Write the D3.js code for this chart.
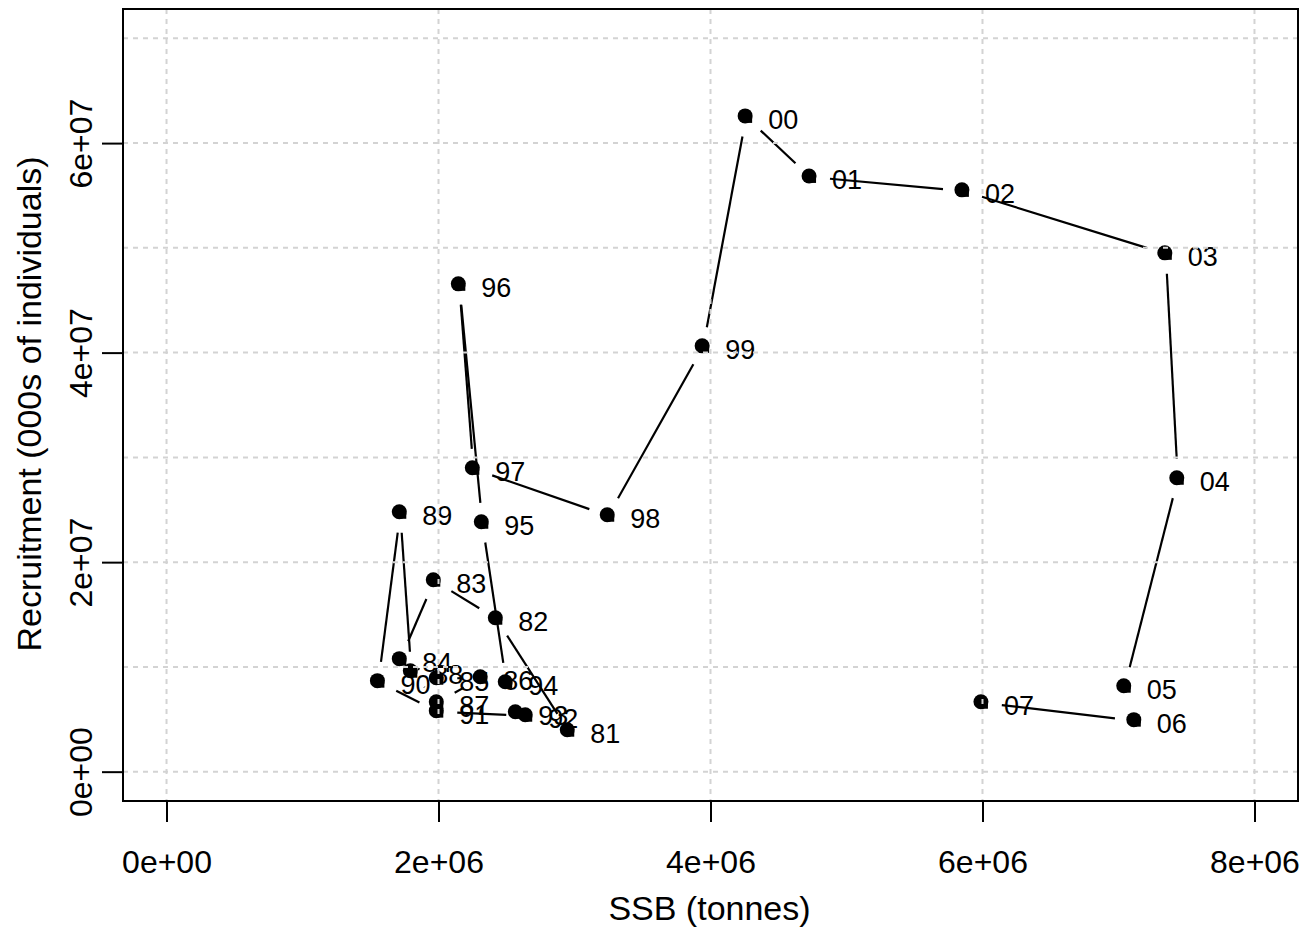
<!DOCTYPE html>
<html>
<head>
<meta charset="utf-8">
<script src="https://cdn.jsdelivr.net/npm/d3@7"></script>
<style>
  body { margin: 0; background: #fff; }
  text { font-family: "Liberation Sans", Arial, sans-serif; fill: #000; }
</style>
</head>
<body>
<div id="chart"></div>
<script>
// stock-recruitment by year (SSB in tonnes, recruits in 000s)
const years = ["81","82","83","84","85","86","87","88","89","90","91","92","93","94",
               "95","96","97","98","99","00","01","02","03","04","05","06","07"];
const ssb = [2.954e6, 2.425e6, 1.969e6, 1.719e6, 1.991e6, 2.314e6, 1.991e6, 1.800e6, 1.719e6,
             1.558e6, 1.991e6, 2.645e6, 2.572e6, 2.498e6, 2.322e6, 2.153e6, 2.256e6, 3.248e6,
             3.946e6, 4.262e6, 4.732e6, 5.856e6, 7.348e6, 7.436e6, 7.046e6, 7.120e6, 5.996e6];
const recruits = [0.391e7, 1.460e7, 1.823e7, 1.069e7, 0.887e7, 0.897e7, 0.658e7, 0.954e7, 2.471e7,
                  0.859e7, 0.573e7, 0.534e7, 0.563e7, 0.849e7, 2.376e7, 4.647e7, 2.891e7, 2.443e7,
                  4.055e7, 6.250e7, 5.677e7, 5.544e7, 4.943e7, 2.796e7, 0.811e7, 0.487e7, 0.658e7];

const xTicks = [0, 2e6, 4e6, 6e6, 8e6];
const xTickLabels = ["0e+00", "2e+06", "4e+06", "6e+06", "8e+06"];
const yTicks = [0, 2e7, 4e7, 6e7];
const yTickLabels = ["0e+00", "2e+07", "4e+07", "6e+07"];
const xGrid = [0, 2e6, 4e6, 6e6, 8e6];
const yGrid = [0, 1e7, 2e7, 3e7, 4e7, 5e7, 6e7, 7e7];

const width = 1305, height = 933;
const box = { left: 123, right: 1298, top: 9, bottom: 801 };

const svg = d3.select("#chart")
   .append("svg")
   .attr("width", width)
   .attr("height", height);

// R style 4% axis extension around xlim=c(0,8e6), ylim=c(0,7e7)
const x = d3.scaleLinear()
   .domain([-0.32e6, 8.32e6])
   .range([box.left, box.right]);
const y = d3.scaleLinear()
   .domain([-0.28e7, 7.28e7])
   .range([box.bottom, box.top]);

const pts = years.map((yr, i) => ({ yr: yr, px: x(ssb[i]), py: y(recruits[i]) }));

// type="b" lines: segments with gaps around each point
const gap = 20;
const segs = [];
for (let i = 0; i < pts.length - 1; i++) {
   const a = pts[i], b = pts[i + 1];
   const dx = b.px - a.px, dy = b.py - a.py;
   const len = Math.sqrt(dx * dx + dy * dy);
   if (len > 2 * gap) {
      const ux = dx / len, uy = dy / len;
      segs.push({ x1: a.px + ux * gap, y1: a.py + uy * gap, x2: b.px - ux * gap, y2: b.py - uy * gap });
   }
}

svg.append("g")
   .selectAll("line")
   .data(segs)
   .enter()
   .append("line")
   .attr("x1", (d) => d.x1)
   .attr("y1", (d) => d.y1)
   .attr("x2", (d) => d.x2)
   .attr("y2", (d) => d.y2)
   .attr("stroke", "#000")
   .attr("stroke-width", 2.2);

const dots = svg.append("g");
dots.selectAll("circle.main")
   .data(pts)
   .enter()
   .append("circle")
   .attr("class", "main")
   .attr("cx", (d) => d.px - 1)
   .attr("cy", (d) => d.py - 1)
   .attr("r", 7.5)
   .attr("fill", "#000");
dots.selectAll("rect")
   .data(pts)
   .enter()
   .append("rect")
   .attr("x", (d) => d.px)
   .attr("y", (d) => d.py)
   .attr("width", 6)
   .attr("height", 6)
   .attr("fill", "#000");

svg.append("g")
   .selectAll("text")
   .data(pts)
   .enter()
   .append("text")
   .attr("x", (d) => d.px + 22)
   .attr("y", (d) => d.py + 12)
   .style("font-size", "27px")
   .text((d) => d.yr);

// dotted grid
const grid = svg.append("g")
   .attr("stroke", "#d3d3d3")
   .attr("stroke-width", 2)
   .attr("stroke-dasharray", "5,5");
grid.selectAll("line.v")
   .data(xGrid)
   .enter()
   .append("line")
   .attr("x1", (d) => x(d))
   .attr("x2", (d) => x(d))
   .attr("y1", box.top)
   .attr("y2", box.bottom);
grid.selectAll("line.h")
   .data(yGrid)
   .enter()
   .append("line")
   .attr("x1", box.left)
   .attr("x2", box.right)
   .attr("y1", (d) => y(d))
   .attr("y2", (d) => y(d));

// frame
svg.append("rect")
   .attr("x", box.left)
   .attr("y", box.top)
   .attr("width", box.right - box.left)
   .attr("height", box.bottom - box.top)
   .attr("fill", "none")
   .attr("stroke", "#000")
   .attr("stroke-width", 2);

const xAxis = d3.axisBottom(x)
   .tickValues(xTicks)
   .tickSize(21)
   .tickPadding(28)
   .tickFormat((d, i) => xTickLabels[i]);
const yAxis = d3.axisLeft(y)
   .tickValues(yTicks)
   .tickSize(21)
   .tickPadding(10)
   .tickFormat((d, i) => yTickLabels[i]);

const gx = svg.append("g")
   .attr("transform", "translate(0," + box.bottom + ")")
   .call(xAxis);
const gy = svg.append("g")
   .attr("transform", "translate(" + box.left + ",0)")
   .call(yAxis);

[gx, gy].forEach((g) => {
   g.select(".domain").remove();
   g.selectAll(".tick line").attr("stroke", "#000").attr("stroke-width", 2);
   g.selectAll(".tick text")
      .style("font-size", "32px")
      .style("font-family", "Liberation Sans, Arial, sans-serif")
      .attr("fill", "#000");
});

gy.selectAll(".tick text")
   .attr("x", null)
   .attr("dy", null)
   .attr("transform", "translate(-31,0) rotate(-90)")
   .style("text-anchor", "middle");

svg.append("text")
   .attr("x", (box.left + box.right) / 2 - 1)
   .attr("y", 920)
   .style("text-anchor", "middle")
   .style("font-size", "34px")
   .text("SSB (tonnes)");

svg.append("text")
   .attr("transform", "translate(41," + ((box.top + box.bottom) / 2 - 1) + ") rotate(-90)")
   .style("text-anchor", "middle")
   .style("font-size", "34px")
   .text("Recruitment (000s of individuals)");
</script>
</body>
</html>
